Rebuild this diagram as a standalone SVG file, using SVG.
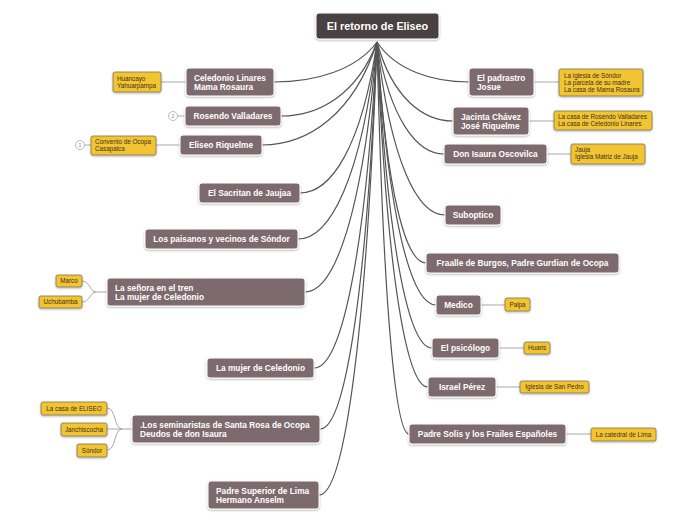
<svg xmlns="http://www.w3.org/2000/svg" width="697" height="520" viewBox="0 0 697 520">
<defs>
<filter id="sh" x="-10%" y="-20%" width="120%" height="150%">
<feDropShadow dx="0" dy="1" stdDeviation="1" flood-color="#000" flood-opacity="0.3"/>
</filter>
</defs>
<style>
.root rect{fill:#4a3f42;stroke:#fff;stroke-width:1;filter:url(#sh)}
.root text{font-family:"Liberation Sans",Arial,sans-serif;font-weight:bold;font-size:10.8px;fill:#fff;text-anchor:middle}
.m rect{fill:#7d6b6e;stroke:#fff;stroke-width:1;filter:url(#sh)}
.m text{font-family:"Liberation Sans",Arial,sans-serif;font-weight:bold;font-size:8.3px;fill:#fff}
.m text.c{text-anchor:middle}
.y rect{fill:#f2c431;stroke:#7f7656;stroke-width:0.8;filter:url(#sh)}
.y text{font-family:"Liberation Sans",Arial,sans-serif;font-size:6.3px;fill:#3a3220}
.y text.c{text-anchor:middle}
.cn path{fill:none;stroke:#555;stroke-width:1.2}
.sub path,.sub line{fill:none;stroke:#a8a8a8;stroke-width:1}
.num circle{fill:#fff;stroke:#aaa;stroke-width:0.8}
.num text{font-family:"Liberation Sans",Arial,sans-serif;font-size:6px;fill:#999;text-anchor:middle}
</style>
<rect width="697" height="520" fill="#fff"/>
<g id="connectors">
<g class="cn">
<path d="M377,42 C356.4,70 315.2,82 274,82"/>
<path d="M377,42 C357.8,93.8 319.4,116 281,116"/>
<path d="M377,42 C354,114.1 308,145 262,145"/>
<path d="M377,42 C361.6,147.7 330.8,193 300,193"/>
<path d="M377,42 C361.2,179.9 329.6,239 298,239"/>
<path d="M377,42 C362.6,217 333.8,292 305,292"/>
<path d="M377,42 C364.4,270.2 339.2,368 314,368"/>
<path d="M377,42 C365.6,312.9 342.8,429 320,429"/>
<path d="M377,42 C365.4,359.1 342.2,495 319,495"/>
<path d="M377,42 C395.4,70 432.2,82 469,82"/>
<path d="M377,42 C392.2,97.3 422.6,121 453,121"/>
<path d="M377,42 C390.4,120.4 417.2,154 444,154"/>
<path d="M377,42 C390.6,163.1 417.8,215 445,215"/>
<path d="M377,42 C386.8,196.7 406.4,263 426,263"/>
<path d="M377,42 C388.8,226.1 412.4,305 436,305"/>
<path d="M377,42 C388,256.2 410,348 432,348"/>
<path d="M377,42 C387.2,283.5 407.6,387 428,387"/>
<path d="M377,42 C383.4,316.4 396.2,434 409,434"/>
</g>
<g class="sub">
<line x1="161" y1="82" x2="186" y2="82"/>
<line x1="177.5" y1="116" x2="185" y2="116"/>
<line x1="84.5" y1="145" x2="91" y2="145"/>
<line x1="156" y1="145" x2="180" y2="145"/>
<path d="M107,292 L96,292 C90,292 90,281 82,281"/>
<path d="M96,292 C90,292 90,302 82,302"/>
<path d="M132,429 L122,429 C114,429 116,408 107,408"/>
<path d="M122,429 L107,429"/>
<path d="M122,429 C114,429 116,450 107,450"/>
<line x1="534" y1="82" x2="559" y2="82"/>
<line x1="529" y1="121" x2="554" y2="121"/>
<line x1="547" y1="154" x2="571" y2="154"/>
<line x1="481" y1="305" x2="505" y2="305"/>
<line x1="499" y1="348" x2="524" y2="348"/>
<line x1="496" y1="387" x2="520" y2="387"/>
<line x1="566" y1="434" x2="591" y2="434"/>
</g>
</g>
<g id="root" class="root"><rect x="316" y="13" width="123" height="26" rx="3"/><text x="377.5" y="30">El retorno de Eliseo</text></g>

<g id="celedonio" class="m"><rect x="186" y="68" width="88" height="28" rx="3"/><text x="194" y="81">Celedonio Linares</text><text x="194" y="90.3">Mama Rosaura</text></g>
<g id="huancayo" class="y"><rect x="113" y="72" width="48" height="20" rx="2"/><text x="117" y="80.5">Huancayo</text><text x="117" y="87.5">Yahuarpampa</text></g>
<g id="num2" class="num"><circle cx="173" cy="116" r="4.5"/><text x="173" y="118.2">2</text></g>
<g id="rosendo" class="m"><rect x="185" y="106" width="96" height="20" rx="3"/><text class="c" x="233" y="119">Rosendo Valladares</text></g>
<g id="num1" class="num"><circle cx="80" cy="145" r="4.5"/><text x="80" y="147.2">1</text></g>
<g id="convento" class="y"><rect x="91" y="136" width="65" height="19" rx="2"/><text x="95" y="143.8">Convento de Ocopa</text><text x="95" y="150.8">Casapalca</text></g>
<g id="eliseo" class="m"><rect x="180" y="135" width="82" height="20" rx="3"/><text class="c" x="221" y="148">Eliseo Riquelme</text></g>
<g id="sacritan" class="m"><rect x="199" y="183" width="101" height="20" rx="3"/><text class="c" x="249.5" y="196">El Sacritan de Jaujaa</text></g>
<g id="paisanos" class="m"><rect x="145" y="229" width="153" height="20" rx="3"/><text class="c" x="221.5" y="242">Los paisanos y vecinos de Sóndor</text></g>
<g id="senora" class="m"><rect x="107" y="278" width="198" height="28" rx="3"/><text x="115" y="291">La señora en el tren</text><text x="115" y="300.3">La mujer de Celedonio</text></g>
<g id="marco" class="y"><rect x="56" y="275" width="26" height="12" rx="2"/><text class="c" x="69" y="283.3">Marco</text></g>
<g id="uchubamba" class="y"><rect x="39" y="296" width="43" height="12" rx="2"/><text class="c" x="60.5" y="304.3">Uchubamba</text></g>
<g id="mujer" class="m"><rect x="207" y="358" width="107" height="20" rx="3"/><text class="c" x="260.5" y="371">La mujer de Celedonio</text></g>
<g id="seminaristas" class="m"><rect x="132" y="415" width="188" height="28" rx="3"/><text x="140" y="428">.Los seminaristas de Santa Rosa de Ocopa</text><text x="140" y="437.3">Deudos de don Isaura</text></g>
<g id="casaeliseo" class="y"><rect x="41" y="402" width="66" height="13" rx="2"/><text class="c" x="74" y="410.8">La casa de ELISEO</text></g>
<g id="janchiscocha" class="y"><rect x="61" y="423" width="46" height="13" rx="2"/><text class="c" x="84" y="431.8">Janchiscocha</text></g>
<g id="sondor" class="y"><rect x="77" y="444" width="30" height="13" rx="2"/><text class="c" x="92" y="452.8">Sóndor</text></g>
<g id="padresup" class="m"><rect x="208" y="481" width="111" height="28" rx="3"/><text x="216" y="494">Padre Superior de Lima</text><text x="216" y="503.3">Hermano Anselm</text></g>

<g id="padrastro" class="m"><rect x="469" y="68" width="65" height="28" rx="3"/><text x="477" y="81">El padrastro</text><text x="477" y="90.3">Josue</text></g>
<g id="iglesiasondor" class="y"><rect x="559" y="69" width="84" height="27" rx="2"/><text x="564" y="77.8">La iglesia de Sóndor</text><text x="564" y="84.8">La parcela de su madre</text><text x="564" y="91.8">La casa de Mama Rosaura</text></g>
<g id="jacinta" class="m"><rect x="453" y="107" width="76" height="28" rx="3"/><text x="461" y="120">Jacinta Chávez</text><text x="461" y="129.3">José Riquelme</text></g>
<g id="casarosendo" class="y"><rect x="554" y="111" width="98" height="19" rx="2"/><text x="558" y="118.8">La casa de Rosendo Valladares</text><text x="558" y="125.8">La casa de Celedonio Linares</text></g>
<g id="isaura" class="m"><rect x="444" y="144" width="103" height="20" rx="3"/><text class="c" x="495.5" y="157">Don Isaura Oscovilca</text></g>
<g id="jauja" class="y"><rect x="571" y="144" width="74" height="20" rx="2"/><text x="575" y="152.3">Jauja</text><text x="575" y="159.3">Iglesia Matriz de Jauja</text></g>
<g id="suboptico" class="m"><rect x="445" y="205" width="56" height="20" rx="3"/><text class="c" x="473" y="218">Suboptico</text></g>
<g id="fraalle" class="m"><rect x="426" y="253" width="193" height="20" rx="3"/><text class="c" x="522.5" y="266">Fraalle de Burgos, Padre Gurdian de Ocopa</text></g>
<g id="medico" class="m"><rect x="436" y="295" width="45" height="20" rx="3"/><text class="c" x="458.5" y="308">Medico</text></g>
<g id="palpa" class="y"><rect x="505" y="298" width="25" height="13" rx="2"/><text class="c" x="517.5" y="306.8">Palpa</text></g>
<g id="psicologo" class="m"><rect x="432" y="338" width="67" height="20" rx="3"/><text class="c" x="465.5" y="351">El psicólogo</text></g>
<g id="huaris" class="y"><rect x="524" y="342" width="26" height="12" rx="2"/><text class="c" x="537" y="350.3">Huaris</text></g>
<g id="israel" class="m"><rect x="428" y="377" width="68" height="20" rx="3"/><text class="c" x="462" y="390">Israel Pérez</text></g>
<g id="sanpedro" class="y"><rect x="520" y="381" width="69" height="12" rx="2"/><text class="c" x="554.5" y="389.3">Iglesia de San Pedro</text></g>
<g id="solis" class="m"><rect x="409" y="424" width="157" height="20" rx="3"/><text class="c" x="487.5" y="437">Padre Solis y los Frailes Españoles</text></g>
<g id="catedral" class="y"><rect x="591" y="428" width="65" height="13" rx="2"/><text class="c" x="623.5" y="436.8">La catedral de Lima</text></g>
</svg>
